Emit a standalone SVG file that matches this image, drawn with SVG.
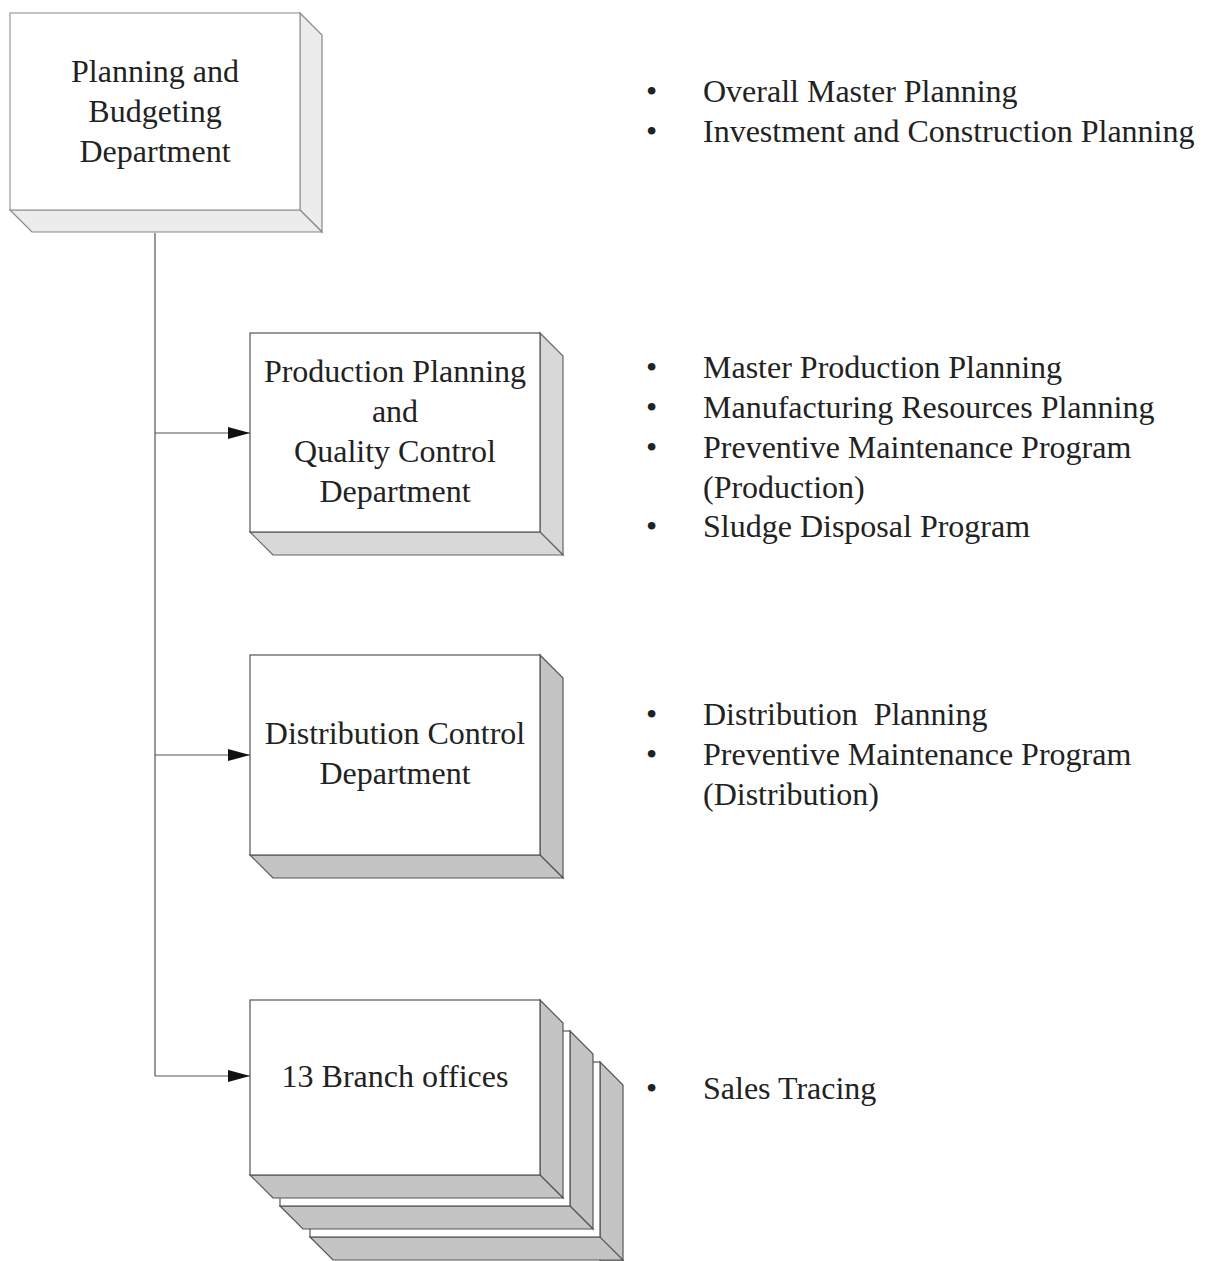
<svg xmlns="http://www.w3.org/2000/svg" width="1208" height="1261" viewBox="0 0 1208 1261">
<style>
.face{fill:#ffffff;stroke:#555;stroke-width:1.2}
.side{fill:#c4c4c4;stroke:#555;stroke-width:1.2}
.side2{fill:#d8d8d8;stroke:#666;stroke-width:1.2}
.side1{fill:#ececec;stroke:#888;stroke-width:1.2}
.lbl{font-family:"Liberation Serif","Times New Roman",serif;font-size:32px;fill:#222;text-anchor:middle}
.txt{font-family:"Liberation Serif","Times New Roman",serif;font-size:32px;fill:#222;white-space:pre}
.con{stroke:#555;stroke-width:1.2;fill:none}
</style>
<defs>
<marker id="arr" viewBox="0 0 22 12" refX="22" refY="6" markerWidth="22" markerHeight="12" markerUnits="userSpaceOnUse" orient="auto">
<path d="M0,0 L22,6 L0,12 Z" fill="#111"/>
</marker>
</defs>
<rect width="1208" height="1261" fill="#fff"/>

<g id="connectors">
<path class="con" d="M155,233 V1076"/>
<path class="con" d="M155,433 H250" marker-end="url(#arr)"/>
<path class="con" d="M155,755 H250" marker-end="url(#arr)"/>
<path class="con" d="M155,1076 H250" marker-end="url(#arr)"/>
</g>

<g id="planning-budgeting">
<polygon class="side1" points="300,13 322,35 322,232 300,210"/>
<polygon class="side1" points="10,210 300,210 322,232 32,232"/>
<rect class="face" x="10" y="13" width="290" height="197" style="stroke:#999"/>
<text class="lbl" x="155" y="82">Planning and</text>
<text class="lbl" x="155" y="122">Budgeting</text>
<text class="lbl" x="155" y="162">Department</text>
</g>

<g id="production-planning">
<polygon class="side2" points="540,333 563,356 563,555 540,532"/>
<polygon class="side2" points="250,532 540,532 563,555 273,555"/>
<rect class="face" x="250" y="333" width="290" height="199"/>
<text class="lbl" x="395" y="382">Production Planning</text>
<text class="lbl" x="395" y="422">and</text>
<text class="lbl" x="395" y="462">Quality Control</text>
<text class="lbl" x="395" y="502">Department</text>
</g>

<g id="distribution-control">
<polygon class="side" points="540,655 563,678 563,878 540,855"/>
<polygon class="side" points="250,855 540,855 563,878 273,878"/>
<rect class="face" x="250" y="655" width="290" height="200"/>
<text class="lbl" x="395" y="744">Distribution Control</text>
<text class="lbl" x="395" y="784">Department</text>
</g>

<g id="branch-offices">
<polygon class="side" points="600,1062 623,1085 623,1261 600,1261"/>
<polygon class="side" points="310,1237 600,1237 623,1260 333,1260"/>
<rect class="face" x="310" y="1062" width="290" height="175"/>
<polygon class="side" points="570,1031 593,1054 593,1229 570,1206"/>
<polygon class="side" points="280,1206 570,1206 593,1229 303,1229"/>
<rect class="face" x="280" y="1031" width="290" height="175"/>
<polygon class="side" points="540,1000 563,1023 563,1198 540,1175"/>
<polygon class="side" points="250,1175 540,1175 563,1198 273,1198"/>
<rect class="face" x="250" y="1000" width="290" height="175"/>
<text class="lbl" x="395" y="1087">13 Branch offices</text>
</g>

<g id="notes">
<text class="txt" x="646" y="102">•</text><text class="txt" x="703" y="102">Overall Master Planning</text>
<text class="txt" x="646" y="142">•</text><text class="txt" x="703" y="142">Investment and Construction Planning</text>

<text class="txt" x="646" y="378">•</text><text class="txt" x="703" y="378">Master Production Planning</text>
<text class="txt" x="646" y="418">•</text><text class="txt" x="703" y="418">Manufacturing Resources Planning</text>
<text class="txt" x="646" y="458">•</text><text class="txt" x="703" y="458">Preventive Maintenance Program</text>
<text class="txt" x="703" y="498">(Production)</text>
<text class="txt" x="646" y="537">•</text><text class="txt" x="703" y="537">Sludge Disposal Program</text>

<text class="txt" x="646" y="725">•</text><text class="txt" x="703" y="725">Distribution  Planning</text>
<text class="txt" x="646" y="765">•</text><text class="txt" x="703" y="765">Preventive Maintenance Program</text>
<text class="txt" x="703" y="805">(Distribution)</text>

<text class="txt" x="646" y="1099">•</text><text class="txt" x="703" y="1099">Sales Tracing</text>
</g>
</svg>
